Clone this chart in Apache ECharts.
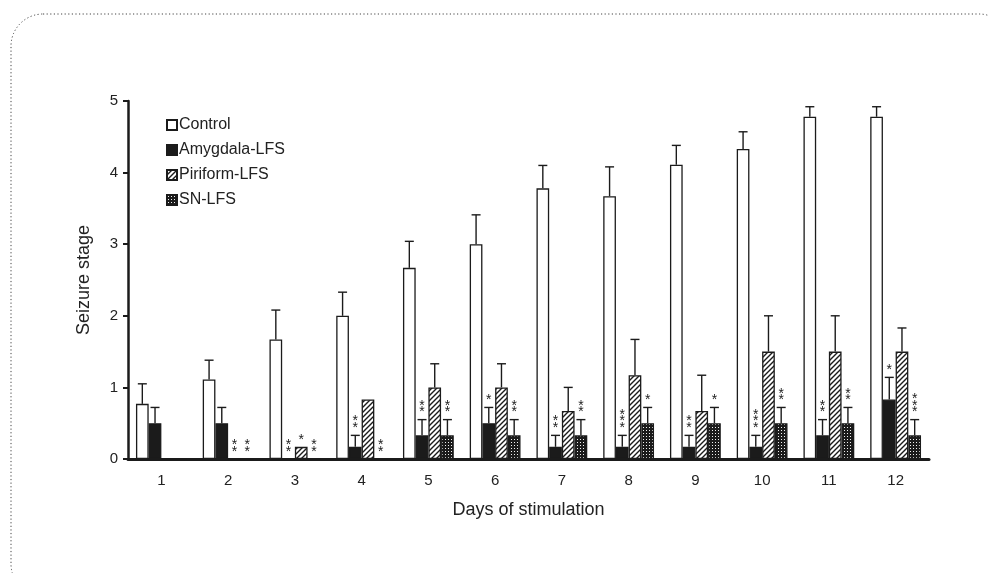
<!DOCTYPE html>
<html>
<head>
<meta charset="utf-8">
<script src="https://cdn.jsdelivr.net/npm/echarts@6/dist/echarts.min.js"></script>
<style>
  html, body { margin: 0; padding: 0; background: #fff; }
  #chart { width: 989px; height: 573px; }
</style>
</head>
<body>
<div id="chart"></div>
<script>
const days = ['1', '2', '3', '4', '5', '6', '7', '8', '9', '10', '11', '12']

const controlMean = [0.77, 1.11, 1.67, 2.0, 2.67, 3.0, 3.78, 3.67, 4.11, 4.33, 4.78, 4.78]
const controlSem = [0.28, 0.27, 0.41, 0.33, 0.37, 0.41, 0.32, 0.41, 0.27, 0.24, 0.14, 0.14]
const amygMean = [0.5, 0.5, 0, 0.17, 0.33, 0.5, 0.17, 0.17, 0.17, 0.17, 0.33, 0.83]
const amygSem = [0.22, 0.22, 0, 0.16, 0.22, 0.22, 0.16, 0.16, 0.16, 0.16, 0.22, 0.31]
const piriMean = [0, 0, 0.17, 0.83, 1.0, 1.0, 0.67, 1.17, 0.67, 1.5, 1.5, 1.5]
const piriSem = [0, 0, 0, 0, 0.33, 0.33, 0.33, 0.5, 0.5, 0.5, 0.5, 0.33]
const snMean = [0, 0, 0, 0, 0.33, 0.33, 0.33, 0.5, 0.5, 0.5, 0.5, 0.33]
const snSem = [0, 0, 0, 0, 0.22, 0.22, 0.22, 0.22, 0.22, 0.22, 0.22, 0.22]

// number of significance stars above each bar
const controlStars = [0, 0, 0, 0, 0, 0, 0, 0, 0, 0, 0, 0]
const amygStars = [0, 0, 2, 2, 2, 1, 2, 3, 2, 3, 2, 1]
const piriStars = [0, 2, 1, 0, 0, 0, 0, 0, 0, 0, 0, 0]
const snStars = [0, 2, 2, 2, 2, 2, 2, 1, 1, 2, 2, 3]

const BAR_W = 12.7
const INK = '#1b1b1b'

function hatchPattern() {
  const c = document.createElement('canvas')
  c.width = 5; c.height = 5
  const ctx = c.getContext('2d')
  ctx.fillStyle = '#fff'
  ctx.fillRect(0, 0, 5, 5)
  ctx.strokeStyle = INK
  ctx.lineWidth = 1.4
  ctx.beginPath()
  ctx.moveTo(-1, 6); ctx.lineTo(6, -1)
  ctx.moveTo(-1, 1); ctx.lineTo(1, -1)
  ctx.moveTo(4, 6); ctx.lineTo(6, 4)
  ctx.stroke()
  return c
}

function dotPattern() {
  const c = document.createElement('canvas')
  c.width = 3; c.height = 3
  const ctx = c.getContext('2d')
  ctx.fillStyle = INK
  ctx.fillRect(0, 0, 3, 3)
  ctx.fillStyle = '#f0f0f0'
  ctx.fillRect(1, 1, 1, 1)
  return c
}

const groups = [
  { name: 'Control', mean: controlMean, sem: controlSem, stars: controlStars, color: '#fff' },
  { name: 'Amygdala-LFS', mean: amygMean, sem: amygSem, stars: amygStars, color: INK },
  { name: 'Piriform-LFS', mean: piriMean, sem: piriSem, stars: piriStars, color: { image: hatchPattern(), repeat: 'repeat' } },
  { name: 'SN-LFS', mean: snMean, sem: snSem, stars: snStars, color: { image: dotPattern(), repeat: 'repeat' } },
]

function errorRenderer(idx) {
  return function (params, api) {
    const x = api.value(0)
    const mean = api.value(1)
    const sem = api.value(2)
    const n = api.value(3)
    const base = api.coord([x, 0])
    const cx = base[0] + (idx - 1.5) * BAR_W
    const yMean = api.coord([x, mean])[1]
    const yTop = api.coord([x, mean + sem])[1]
    const children = []
    if (sem > 0) {
      children.push({
        type: 'line',
        shape: { x1: cx, y1: yMean, x2: cx, y2: yTop },
        style: { stroke: INK, lineWidth: 1.4 }
      })
      children.push({
        type: 'line',
        shape: { x1: cx - 4.5, y1: yTop, x2: cx + 4.5, y2: yTop },
        style: { stroke: INK, lineWidth: 1.4 }
      })
    }
    for (let i = 0; i < n; i++) {
      children.push({
        type: 'text',
        style: {
          x: cx, y: yTop - 7 - i * 6.8,
          text: '*', fill: INK,
          font: '14px "Liberation Sans", Arial, sans-serif',
          align: 'center', verticalAlign: 'middle'
        }
      })
    }
    return { type: 'group', children: children }
  }
}

const series = []
groups.forEach((g, i) => {
  series.push({
    name: g.name,
    type: 'bar',
    data: g.mean,
    barWidth: BAR_W,
    barGap: '0%',
    itemStyle: { color: g.color, borderColor: INK, borderWidth: 1.3 },
    emphasis: { disabled: true },
    z: 2
  })
})
groups.forEach((g, i) => {
  series.push({
    type: 'custom',
    name: g.name + ' err',
    renderItem: errorRenderer(i),
    data: g.mean.map((m, k) => [k, m, g.sem[k], g.stars[k]]),
    z: 3,
    silent: true
  })
})

const chart = echarts.init(document.getElementById('chart'))
chart.setOption({
  animation: false,
  textStyle: { fontFamily: '"Liberation Sans", Arial, sans-serif', color: '#222' },
  graphic: [{
    type: 'rect',
    shape: { x: 11, y: 14, width: 1000, height: 582, r: 32 },
    style: { fill: 'none', stroke: '#444', lineWidth: 1, lineDash: [1.2, 2.4] },
    silent: true
  }],
  legend: {
    orient: 'vertical',
    left: 161,
    top: 112,
    itemWidth: 10,
    itemHeight: 10,
    itemGap: 9,
    icon: 'rect',
    data: groups.map(g => g.name),
    textStyle: { fontSize: 16, color: '#222', padding: [0, 0, 0, -3] }
  },
  grid: { left: 128, right: 60, top: 101, bottom: 114 },
  xAxis: {
    type: 'category',
    data: days,
    name: 'Days of stimulation',
    nameLocation: 'middle',
    nameGap: 42,
    nameTextStyle: { fontSize: 18, color: '#222' },
    axisLine: { lineStyle: { color: INK, width: 3 } },
    axisTick: { show: false },
    axisLabel: { fontSize: 15, color: '#222', margin: 14 }
  },
  yAxis: {
    type: 'value',
    min: 0,
    max: 5,
    interval: 1,
    name: 'Seizure stage',
    nameLocation: 'middle',
    nameGap: 35,
    nameRotate: 90,
    nameTextStyle: { fontSize: 18, color: '#222' },
    axisLine: { show: true, lineStyle: { color: INK, width: 2.5 } },
    axisTick: { show: true, length: 5, lineStyle: { color: INK, width: 2 } },
    axisLabel: { fontSize: 15, color: '#222', margin: 10 },
    splitLine: { show: false }
  },
  series: series
})
</script>
</body>
</html>
